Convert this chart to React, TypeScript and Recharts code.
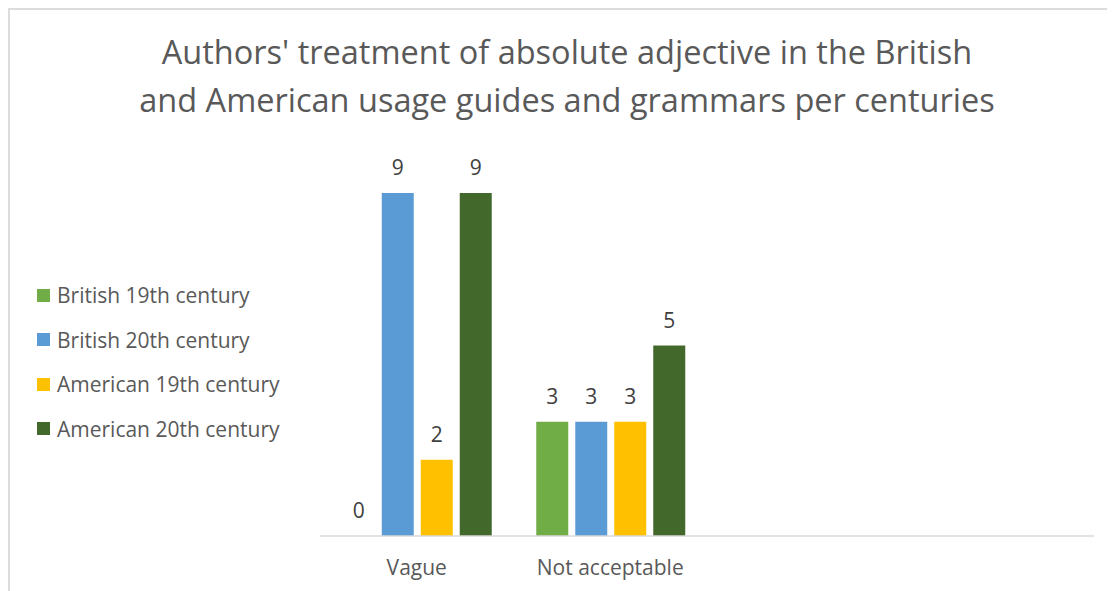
import { BarChart, Bar, XAxis, YAxis, Legend, LabelList } from 'recharts'

const categories = ['Vague', 'Not acceptable', '', '']
const british19th = [0, 3, null, null]
const british20th = [9, 3, null, null]
const american19th = [2, 3, null, null]
const american20th = [9, 5, null, null]

const series = [
  { key: 'b19', name: 'British 19th century', color: '#70ad47', values: british19th },
  { key: 'b20', name: 'British 20th century', color: '#5b9bd5', values: british20th },
  { key: 'a19', name: 'American 19th century', color: '#ffc000', values: american19th },
  { key: 'a20', name: 'American 20th century', color: '#43682b', values: american20th },
]

const data = categories.map((cat, i) => {
  const row: Record<string, string | number | null> = { cat }
  series.forEach((s) => { row[s.key] = s.values[i] })
  return row
})

const font = '"Open Sans", sans-serif'

function LegendBox() {
  return (
    <div style={{ fontFamily: font, fontSize: 21, color: '#595959' }}>
      {series.map((s) => (
        <div key={s.key} style={{ height: 44.5, display: 'flex', alignItems: 'center', whiteSpace: 'nowrap' }}>
          <span style={{ width: 13, height: 13, background: s.color, display: 'inline-block', marginRight: 7 }} />
          <span>{s.name}</span>
        </div>
      ))}
    </div>
  )
}

// label drawn for every value, zero included
function ValueLabel(props: any) {
  const { x, y, width, value } = props
  if (value === null || value === undefined) return null
  return (
    <text x={x + width / 2} y={y - 18} textAnchor="middle" fill="#404040" fontSize={21} fontFamily={font}>
      {value}
    </text>
  )
}

export default function App() {
  return (
    <div style={{ position: 'relative', width: 1105, height: 581, borderLeft: '2px solid #dcdcdc', borderTop: '2px solid #dcdcdc', overflow: 'hidden', background: '#fff' }}>
      <div style={{ position: 'absolute', top: 18, left: 0, width: 1105, paddingLeft: 9, boxSizing: 'border-box', textAlign: 'center', fontFamily: font, fontSize: 32.5, lineHeight: '48px', color: '#595959' }}>
        Authors' treatment of absolute adjective in the British<br />
        and American usage guides and grammars per centuries
      </div>
      <BarChart
        width={1105}
        height={581}
        data={data}
        margin={{ top: 145, right: 21, left: 310, bottom: 15 }}
        barCategoryGap={22.75}
        barGap={7}
      >
        <XAxis
          dataKey="cat"
          height={40}
          axisLine={{ stroke: '#d9d9d9', strokeWidth: 1.5 }}
          tickLine={false}
          tickMargin={18}
          tick={{ fill: '#595959', fontSize: 21, fontFamily: font }}
          interval={0}
        />
        <YAxis hide domain={[0, 10]} />
        <Legend
          layout="vertical"
          align="center"
          verticalAlign="middle"
          content={<LegendBox />}
          wrapperStyle={{ left: 27, top: 263, width: 'auto', height: 'auto' }}
        />
        {series.map((s) => (
          <Bar key={s.key} dataKey={s.key} name={s.name} fill={s.color} minPointSize={0.01} isAnimationActive={false}>
            <LabelList dataKey={s.key} content={<ValueLabel />} />
          </Bar>
        ))}
      </BarChart>
    </div>
  )
}
